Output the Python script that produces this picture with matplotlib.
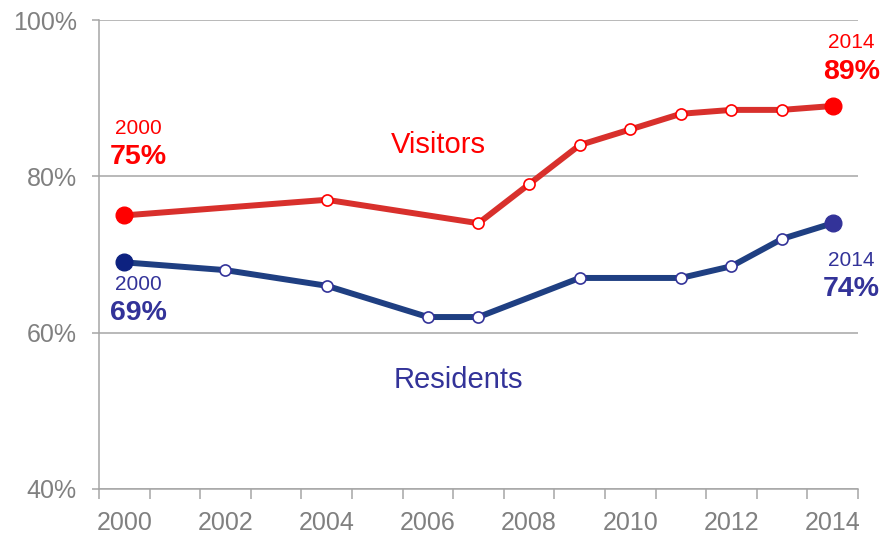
import matplotlib.pyplot as plt
from matplotlib.ticker import FixedLocator, FuncFormatter

plt.rcParams['font.family'] = ['Liberation Sans', 'DejaVu Sans']

# datos
visit_years = [2000, 2004, 2007, 2008, 2009, 2010, 2011, 2012, 2013, 2014]
visit_vals = [75, 77, 74, 79, 84, 86, 88, 88.5, 88.5, 89]

resid_years = [2000, 2002, 2004, 2006, 2007, 2009, 2011, 2012, 2013, 2014]
resid_vals = [69, 68, 66, 62, 62, 67, 67, 68.5, 72, 74]

year_labels = [2000, 2002, 2004, 2006, 2008, 2010, 2012, 2014]
y_ticks = [40, 60, 80, 100]

red_line = '#d8302c'
red_txt = '#ff0000'
blue_line = '#1f3f82'
blue_txt = '#333399'
grey = '#a6a6a6'
label_grey = '#808080'

fig = plt.figure(figsize=(8.96, 5.35), dpi=100)
ax = fig.add_axes([99 / 896, 1 - 489 / 535, (858 - 99) / 896, (489 - 20) / 535])

# lineas
ax.plot(visit_years, visit_vals, color=red_line, lw=4.3, zorder=3,
        marker='o', ms=8, mfc='white', mec=red_txt, mew=1.2)
ax.plot(resid_years, resid_vals, color=blue_line, lw=4.3, zorder=3,
        marker='o', ms=8, mfc='white', mec=blue_txt, mew=1.2)

# puntos extremos
ax.plot([visit_years[0], visit_years[-1]], [visit_vals[0], visit_vals[-1]],
        'o', ms=12, color=red_txt, zorder=4)
ax.plot([resid_years[0]], [resid_vals[0]], 'o', ms=12, color='#0d2280', zorder=4)
ax.plot([resid_years[-1]], [resid_vals[-1]], 'o', ms=12, color=blue_txt, zorder=4)

# etiquetas
def etiqueta(x, y, anio, val, color, dx, dy_year, dy_val):
    ax.annotate(str(anio), (x, y), xytext=(dx, dy_year), textcoords='offset pixels',
                ha='center', va='center', fontsize=15, color=color)
    ax.annotate(f'{val:.0f}%', (x, y), xytext=(dx, dy_val), textcoords='offset pixels',
                ha='center', va='center', fontsize=20.5, fontweight='bold', color=color)

etiqueta(visit_years[0], visit_vals[0], visit_years[0], visit_vals[0], red_txt, 14, 87, 58)
etiqueta(visit_years[-1], visit_vals[-1], visit_years[-1], visit_vals[-1], red_txt, 19, 63, 34)
etiqueta(resid_years[0], resid_vals[0], resid_years[0], resid_vals[0], blue_txt, 14, -22, -51)
etiqueta(resid_years[-1], resid_vals[-1], resid_years[-1], resid_vals[-1], blue_txt, 19, -37, -66)

ax.text(2006.2, 84, 'Visitors', color=red_txt, fontsize=21, ha='center', va='center')
ax.text(2006.6, 54, 'Residents', color=blue_txt, fontsize=21, ha='center', va='center')

# ejes
ax.set_xlim(1999.5, 2014.5)
ax.set_ylim(40, 100)
ax.set_yticks(y_ticks)
ax.yaxis.set_major_formatter(FuncFormatter(lambda v, p: f'{v:.0f}%'))
ax.grid(axis='y', color=grey, lw=1.1, zorder=1)
ax.set_xticks(year_labels)
ax.xaxis.set_minor_locator(FixedLocator([1999.5 + i for i in range(16)]))
ax.tick_params(axis='x', which='major', length=0, pad=16, labelsize=18, labelcolor=label_grey)
ax.tick_params(axis='x', which='minor', length=7, width=1.1, color=grey)
ax.tick_params(axis='y', length=5, width=1.1, color=grey, pad=11, labelsize=18, labelcolor=label_grey)

for s in ['top', 'right']:
    ax.spines[s].set_visible(False)
for s in ['left', 'bottom']:
    ax.spines[s].set_color(grey)
    ax.spines[s].set_linewidth(1.1)

fig.savefig('out.png', dpi=100)
